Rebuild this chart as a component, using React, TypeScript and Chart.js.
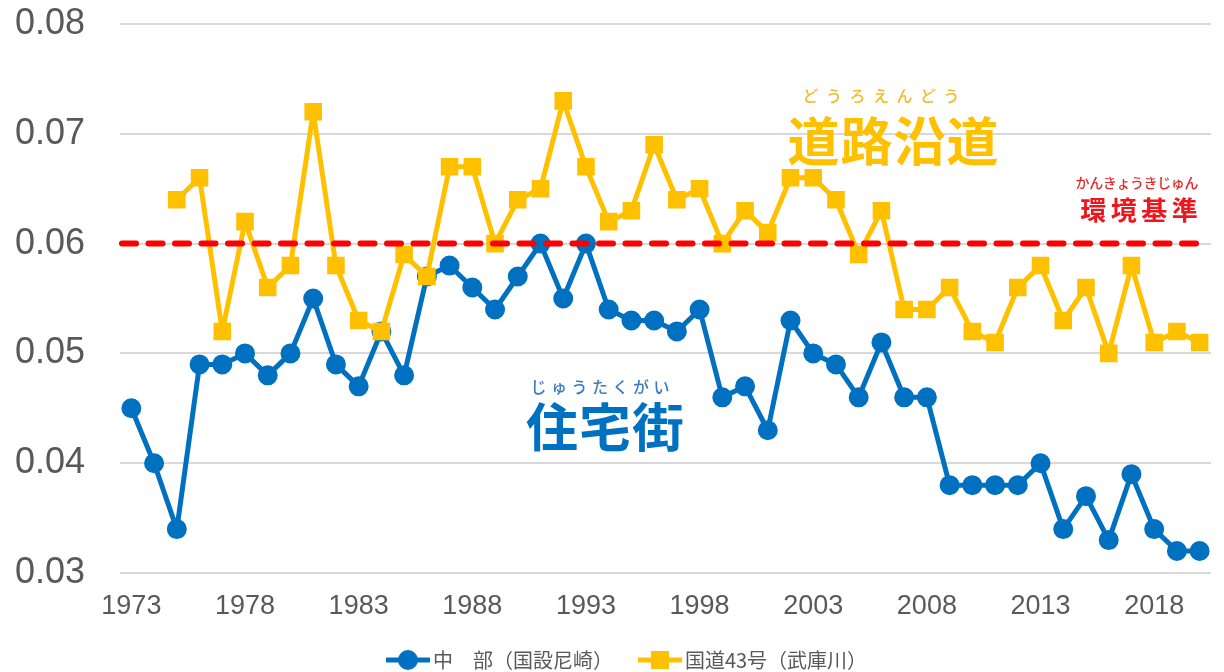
import React, { useEffect, useRef } from 'react';
import { Chart, registerables } from 'chart.js';

Chart.register(...registerables);

// ---------------- data ----------------
const years = [
  '1973', '1974', '1975', '1976', '1977', '1978', '1979', '1980', '1981', '1982',
  '1983', '1984', '1985', '1986', '1987', '1988', '1989', '1990', '1991', '1992',
  '1993', '1994', '1995', '1996', '1997', '1998', '1999', '2000', '2001', '2002',
  '2003', '2004', '2005', '2006', '2007', '2008', '2009', '2010', '2011', '2012',
  '2013', '2014', '2015', '2016', '2017', '2018', '2019', '2020',
];

const tickYears = ['1973', '1978', '1983', '1988', '1993', '1998', '2003', '2008', '2013', '2018'];

const chubuLabel = '中　部（国設尼崎）';
const chubu = [
  0.045, 0.040, 0.034, 0.049, 0.049, 0.050, 0.048, 0.050, 0.055, 0.049,
  0.047, 0.052, 0.048, 0.057, 0.058, 0.056, 0.054, 0.057, 0.060, 0.055,
  0.060, 0.054, 0.053, 0.053, 0.052, 0.054, 0.046, 0.047, 0.043, 0.053,
  0.050, 0.049, 0.046, 0.051, 0.046, 0.046, 0.038, 0.038, 0.038, 0.038,
  0.040, 0.034, 0.037, 0.033, 0.039, 0.034, 0.032, 0.032,
];

const kokudoLabel = '国道43号（武庫川）';
const kokudo43 = [
  null, null, 0.064, 0.066, 0.052, 0.062, 0.056, 0.058, 0.072, 0.058,
  0.053, 0.052, 0.059, 0.057, 0.067, 0.067, 0.060, 0.064, 0.065, 0.073,
  0.067, 0.062, 0.063, 0.069, 0.064, 0.065, 0.060, 0.063, 0.061, 0.066,
  0.066, 0.064, 0.059, 0.063, 0.054, 0.054, 0.056, 0.052, 0.051, 0.056,
  0.058, 0.053, 0.056, 0.050, 0.058, 0.051, 0.052, 0.051,
];

const environmentalStandard = 0.06;
const yMin = 0.03;
const yMax = 0.08;
const yStep = 0.01;

// ---------------- styles ----------------
const BLUE = '#0070c0';
const YELLOW = '#ffc000';
const RED = '#ff0000';
const GREY_TEXT = '#595959';
const JP = '"Noto Sans CJK JP", "Noto Sans", sans-serif';
const NUM = '"Liberation Sans", Arial, sans-serif';

type Annot = { text: string; cx: number; cy: number; pitch: number; size: number; weight: string; color: string };
const annotations: Annot[] = [
  { text: 'どうろえんどう', cx: 881, cy: 96, pitch: 23.5, size: 16, weight: '500', color: '#f0bd2a' },
  { text: '道路沿道', cx: 893, cy: 141, pitch: 53, size: 52, weight: '700', color: YELLOW },
  { text: 'かんきょうきじゅん', cx: 1137, cy: 183, pitch: 13.6, size: 14, weight: '500', color: '#e8262a' },
  { text: '環境基準', cx: 1139, cy: 210, pitch: 30.5, size: 26, weight: '700', color: '#f0141c' },
  { text: 'じゅうたくがい', cx: 600, cy: 387, pitch: 20.5, size: 16, weight: '500', color: '#3a7cc4' },
  { text: '住宅街', cx: 605, cy: 427, pitch: 53, size: 52, weight: '700', color: BLUE },
];

function drawSpaced(ctx: CanvasRenderingContext2D, a: Annot) {
  const chars = Array.from(a.text);
  ctx.font = `${a.weight} ${a.size}px ${JP}`;
  ctx.fillStyle = a.color;
  ctx.textAlign = 'center';
  ctx.textBaseline = 'middle';
  const start = a.cx - ((chars.length - 1) * a.pitch) / 2;
  chars.forEach((c, i) => ctx.fillText(c, start + i * a.pitch, a.cy));
}

const overlayPlugin = {
  id: 'overlay',
  afterDatasetsDraw(chart: any) {
    const { ctx, chartArea, scales } = chart;
    const y = scales.y.getPixelForValue(environmentalStandard);
    ctx.save();
    ctx.strokeStyle = RED;
    ctx.lineWidth = 6;
    ctx.lineCap = 'round';
    ctx.setLineDash([14, 12.5]);
    ctx.beginPath();
    ctx.moveTo(chartArea.left + 2, y);
    ctx.lineTo(chartArea.right - 12, y);
    ctx.stroke();
    ctx.setLineDash([]);
    annotations.forEach((a) => drawSpaced(ctx, a));
    ctx.restore();
  },
};

const LEGEND_BOX = 57;

function makeIcon(kind: 'circle' | 'square', color: string): HTMLCanvasElement {
  const W = LEGEND_BOX + 14;
  const H = 24;
  const c = document.createElement('canvas');
  c.width = W;
  c.height = H;
  const g = c.getContext('2d')!;
  const x0 = W - 44;
  g.strokeStyle = color;
  g.fillStyle = color;
  g.lineWidth = 5;
  g.beginPath();
  g.moveTo(x0, H / 2);
  g.lineTo(W, H / 2);
  g.stroke();
  const cx = x0 + 22;
  if (kind === 'circle') {
    g.beginPath();
    g.arc(cx, H / 2, 10, 0, Math.PI * 2);
    g.fill();
  } else {
    g.fillRect(cx - 9, H / 2 - 9, 18, 18);
  }
  return c;
}

export default function App() {
  const ref = useRef<HTMLCanvasElement | null>(null);

  useEffect(() => {
    if (!ref.current) return;
    const icons = [makeIcon('circle', BLUE), makeIcon('square', YELLOW)];
    const chart = new Chart(ref.current, {
      type: 'line',
      data: {
        labels: years,
        datasets: [
          {
            label: chubuLabel,
            data: chubu,
            borderColor: BLUE,
            backgroundColor: BLUE,
            borderWidth: 5,
            borderJoinStyle: 'round',
            pointStyle: 'circle',
            pointRadius: 9,
            pointBorderWidth: 2,
            pointBackgroundColor: BLUE,
            pointBorderColor: BLUE,
            tension: 0,
            order: 2,
          },
          {
            label: kokudoLabel,
            data: kokudo43,
            borderColor: YELLOW,
            backgroundColor: YELLOW,
            borderWidth: 5,
            borderJoinStyle: 'round',
            pointStyle: 'rect',
            pointRadius: 11,
            pointBorderWidth: 2,
            pointBackgroundColor: YELLOW,
            pointBorderColor: YELLOW,
            tension: 0,
            spanGaps: false,
            order: 1,
          },
        ],
      },
      options: {
        responsive: false,
        animation: false,
        events: [],
        layout: { padding: { top: 24, right: 3, left: 12, bottom: 0 } },
        scales: {
          x: {
            offset: true,
            grid: { display: false, drawTicks: false },
            border: { display: false },
            ticks: {
              autoSkip: false,
              maxRotation: 0,
              minRotation: 0,
              padding: 17,
              color: GREY_TEXT,
              font: { family: NUM, size: 27 },
              callback: (_v: any, i: number) => (tickYears.includes(years[i]) ? years[i] : ''),
            },
            afterFit: (s: any) => {
              s.height = 72;
            },
          },
          y: {
            min: yMin,
            max: yMax,
            grid: { color: '#d9d9d9', lineWidth: 2, drawTicks: false },
            border: { display: false },
            ticks: {
              stepSize: yStep,
              padding: 35,
              color: GREY_TEXT,
              font: { family: NUM, size: 36 },
              callback: (v: any) => Number(v).toFixed(2),
            },
            afterFit: (s: any) => {
              s.width = 108;
              s.paddingTop = 0;
              s.paddingBottom = 0;
            },
          },
        },
        plugins: {
          tooltip: { enabled: false },
          legend: {
            position: 'bottom',
            labels: {
              usePointStyle: true,
              pointStyleWidth: LEGEND_BOX,
              padding: 5,
              color: GREY_TEXT,
              font: { family: JP, size: 20 },
              sort: (a: any, b: any) => a.datasetIndex - b.datasetIndex,
              generateLabels: (ch: any) => {
                const items = (Chart.defaults as any).plugins.legend.labels.generateLabels(ch);
                return items.map((it: any) => ({ ...it, pointStyle: icons[it.datasetIndex] }));
              },
            },
          },
        },
      } as any,
      plugins: [overlayPlugin],
    });
    return () => chart.destroy();
  }, []);

  return (
    <div style={{ position: 'fixed', left: 0, top: 0, width: 1224, height: 672, overflow: 'hidden', background: '#fff' }}>
      <canvas ref={ref} width={1224} height={680} />
    </div>
  );
}
